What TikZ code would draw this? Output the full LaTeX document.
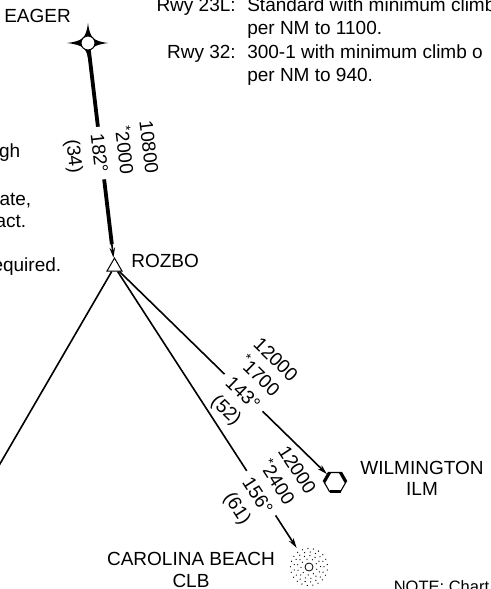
\documentclass[tikz,border=0pt]{standalone}
\usepackage{fontspec}
\setmainfont{Liberation Sans}
\usetikzlibrary{arrows.meta,shapes.geometric,positioning,calc}

\begin{document}
\begin{tikzpicture}[x=1pt,y=-1pt,>={Stealth[length=10pt,width=5.5pt]},line width=1.6pt,
  font=\fontsize{19}{23.5}\selectfont]
  \tikzstyle{fixpt}=[circle,draw,fill=white,line width=1pt,minimum size=14pt,inner sep=0pt]
  \tikzstyle{wpt}=[regular polygon,regular polygon sides=3,draw,fill=white,line width=1pt,minimum size=17.3pt,inner sep=0pt]
  \tikzstyle{vortac}=[regular polygon,regular polygon sides=6,draw,line width=1.1pt,minimum size=22pt,inner sep=0pt]
  \tikzstyle{ndb}=[circle,minimum size=40pt,inner sep=0pt]
  \tikzstyle{placename}=[inner sep=0pt,align=center,font=\fontsize{19}{21.5}\selectfont]
  \tikzstyle{notetxt}=[inner sep=0pt]
  \tikzstyle{altblock}=[fill=white,inner sep=0pt,align=center]
  \tikzstyle{leg}=[->,shorten >=1pt]

  \useasboundingbox (0,0) rectangle (490,589);
  \clip (0,0) rectangle (490,589);

  % fixes
  \fill (88,23) .. controls (90,38) and (93,41) .. (108,43)
    .. controls (93,45) and (90,48) .. (88,58)
    .. controls (86,48) and (83,45) .. (67,43)
    .. controls (83,41) and (86,38) .. cycle;
  \node[fixpt] (EAGER) at (88,43) {};
  \node[wpt] (ROZBO) at (114.5,266.7) {};
  \node[vortac] (ILM) at (335,482) {};
  \node[ndb] (CLB) at (309,567) {};
  \coordinate (SW) at (-10,481);

  \foreach \a in {60,180,300}
    \draw[line width=3.2pt] ([shift={(\a:11)}]ILM.center) -- ([shift={(\a+60:11)}]ILM.center);
  \foreach \r/\n in {8/9,11.5/13,15/17,18.5/21}
    \foreach \i in {1,...,\n}
      \fill ([shift={(\i*360/\n+\r*7:\r)}]CLB.center) circle (0.65pt);
  \draw[line width=0.8pt] (CLB.center) circle (4pt);

  % legs
  \draw[leg] (EAGER) -- (ROZBO);
  \draw[line width=3.8pt] (EAGER) -- ($(EAGER)!0.9!(ROZBO)$);
  \node[altblock,rotate=-83.2,font=\fontsize{19}{25}\selectfont] (altEAGER) at (110,152) {10800\\\textsuperscript{*}2000\\182°\\(34)};
  \draw[leg] (ROZBO) -- (ILM);
  \node[altblock,rotate=-44.3] (altILM) at (250,386) {12000\\\textsuperscript{*}1700\\143°\\(52)};
  \draw[leg,shorten >=2pt] (ROZBO) -- (CLB);
  \node[altblock,rotate=-57.1] (altCLB) at (266,490) {12000\\\textsuperscript{*}2400\\156°\\(61)};
  \draw (ROZBO) -- (SW);

  % names
  \node[placename,anchor=base west] (EAGERlbl) at (3.5,23) {EAGER};
  \node[placename,anchor=base west] (ROZBOlbl) at (130.5,267) {ROZBO};
  \node[placename,anchor=north] (ILMlbl) at (422,460) {WILMINGTON\\ILM};
  \node[placename,anchor=north] (CLBlbl) at (191,551.5) {CAROLINA BEACH\\CLB};

  % notes
  \node[notetxt,anchor=base east] (rwyA) at (236.5,11) {Rwy 23L:};
  \node[notetxt,anchor=base west] (rwyAa) at (246.5,11) {Standard with minimum climb};
  \node[notetxt,anchor=base west] (rwyAb) at (246.5,34.5) {per NM to 1100.};
  \node[notetxt,anchor=base east] (rwyB) at (236.5,58) {Rwy 32:};
  \node[notetxt,anchor=base west] (rwyBa) at (246.5,58) {300-1 with minimum climb o};
  \node[notetxt,anchor=base west] (rwyBb) at (246.5,81.5) {per NM to 940.};
  \node[notetxt,anchor=base east] (frag1) at (21,157) {gh};
  \node[notetxt,anchor=base east] (frag2) at (32,205) {rate,};
  \node[notetxt,anchor=base east] (frag3) at (27,227) {act.};
  \node[notetxt,anchor=base east] (frag4) at (62,271) {equired.};
  \node[notetxt,anchor=base west,font=\fontsize{16.5}{20}\selectfont] (chart) at (393,592) {NOTE: Chart};
\end{tikzpicture}
\end{document}
